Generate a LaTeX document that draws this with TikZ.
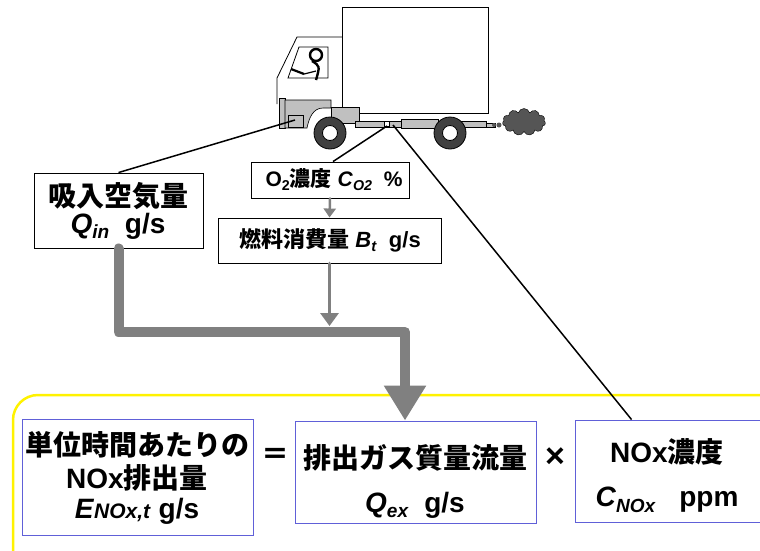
\documentclass[tikz,border=0pt]{standalone}
\usepackage{fontspec}
\setmainfont{Liberation Sans}
\newfontfamily\jp{Noto Sans CJK JP}
\usetikzlibrary{arrows.meta, calc, positioning, shapes.symbols}

\definecolor{panelblue}{RGB}{96,96,216}
\definecolor{flowgray}{RGB}{128,128,128}
\definecolor{partgray}{RGB}{192,192,192}
\definecolor{tyre}{RGB}{64,64,64}
\definecolor{smoke}{RGB}{85,85,85}

% italic symbol with a small lowered index
\newcommand{\vsub}[2]{\textit{#1}\raisebox{-0.35ex}{\scalebox{0.68}{\textit{#2}}}}

\begin{document}
\begin{tikzpicture}[x=1pt,y=-1pt]
    \tikzstyle{every node}=[inner sep=0pt, font=\bfseries];
    \tikzstyle{inbox}=[draw, line width=0.9pt];
    \tikzstyle{panel}=[draw=panelblue, line width=0.9pt];
    \tikzstyle{big}=[font=\fontsize{28}{30}\selectfont\bfseries];
    \tikzstyle{mid}=[font=\fontsize{21}{24}\selectfont\bfseries];
    \tikzstyle{part}=[fill=partgray, draw, line width=0.6pt];
    \tikzstyle{wire}=[draw, line width=1.5pt];
    \tikzstyle{flow}=[draw=flowgray, line cap=round, line join=round];
    \useasboundingbox (0,0) rectangle (760,550);
    \clip (0,0) rectangle (760,550);

    % frame round the formula
    \draw[yellow, line width=2.5pt, rounded corners=25] (13,395) rectangle (800,600);

    % truck body and cab
    \begin{scope}[line width=0.8pt]
    \draw (342,7) rectangle (488,113);
    \draw (277,104) -- (277,78) -- (297,37) -- (342,37);
    \draw (299,47) -- (328,47) -- (328,78) -- (288,78) -- cycle;
    \draw[line width=2.4pt] (316,55) circle (6);
    \draw[line width=2.4pt] (312,61) .. controls (320,66) .. (316,80);
    \draw[line width=2.2pt] (291,69) -- (304,74);
    \draw[line width=1.2pt] (304,74) -- (316,71);
    % engine, tank, chassis
    \draw[part] (279,98) rectangle (285,128);
    \draw[part] (285,100) -- (331,100) -- (331,108) -- (323,108) .. controls (313,108) and (309,118) .. (307,128) -- (285,128) -- cycle;
    \draw[part] (288,115) rectangle (303,127);
    \draw[part] (331,107) rectangle (359,123);
    \draw[part] (355,121) rectangle (486,127);
    \draw[part] (401,119) rectangle (438,128);
    \draw[fill=white] (384,121) rectangle (389,126);
    \draw[part] (486,123) rectangle (495,127);
    \fill[smoke] (494,125) circle (2) (499,125) circle (2.5);
    \foreach \wx in {330,450} {
        \draw[fill=tyre] (\wx,133) circle (16);
        \draw[fill=white] (\wx,133) circle (7.5);
    }
    \end{scope}
    \node[cloud, cloud puffs=11, aspect=1.6, draw, fill=smoke, minimum width=43, minimum height=27] (exhaust) at (524,122) {};

    % measurement boxes
    \node[inbox, minimum width=169, minimum height=75] (qin) at (118.5,210.5) {};
    \node[inbox, minimum width=158, minimum height=36] (otwo) at (330,180) {};
    \node[inbox, minimum width=223, minimum height=45] (fuel) at (329.5,240.5) {};
    \node[panel, minimum width=231, minimum height=116] (rate) at (137.5,477) {};
    \node[panel, minimum width=241, minimum height=102] (qex) at (415.5,472) {};
    \node[panel, minimum width=225, minimum height=102] (nox) at (687.5,471) {};

    \node[big] (qinjp) at (118,196) {\jp 吸入空気量};
    \node[big] (qinvar) at (118,226) {\vsub{Q}{in}\ \ g/s};
    \node[mid] (otwotx) at (334,180) {O\raisebox{-0.35ex}{\scalebox{0.68}{2}}{\jp 濃度} \vsub{C}{O2}\ \ \%};
    \node[mid, font=\fontsize{22}{24}\selectfont\bfseries] (fueltx) at (330,240) {{\jp 燃料消費量} \vsub{B}{t}\ \ g/s};

    \node[big] (ratejp) at (137,445) {\jp 単位時間あたりの};
    \node[big] (ratenox) at (137,478) {NOx{\jp 排出量}};
    \node[big] (ratevar) at (137,511) {\textit{E}\scalebox{0.75}{\textit{NOx,t}}\ g/s};
    \node[big] (eq) at (275,456) {\jp ＝};
    \node[big] (qexjp) at (415,458) {\jp 排出ガス質量流量};
    \node[big] (qexvar) at (415,505) {\vsub{Q}{ex}\ \ g/s};
    \node[big, font=\fontsize{34}{36}\selectfont\bfseries] (times) at (555,458) {×};
    \node[big] (noxjp) at (667,452) {NOx{\jp 濃度}};
    \node[big] (noxvar) at (667,500) {\vsub{C}{NOx}\ \ \ ppm};

    % sampling points on the truck
    \coordinate (intake) at (295,120);
    \coordinate (tap) at (387,126);
    \coordinate (probe) at (393,125);
    \draw[wire] (intake) -- (qin.north);
    \draw[wire] (tap) -- ($(otwo.north)+(3,0)$);
    \draw[wire] (probe) -- ($(nox.north west)+(57,0)$);

    % flows into the exhaust mass
    \coordinate (bend) at (405,332);
    \draw[flow, line width=10pt, -{Triangle[width=40pt,length=35pt]}] (qin.south) |- (bend) -- (bend |- qex.north);
    \draw[flow, line width=2.5pt, -{Triangle[width=12pt,length=9pt]}] (otwo.south) -- (fuel.north);
    \draw[flow, line width=3.5pt, -{Triangle[width=18pt,length=13pt]}] (fuel.south) -- ($(fuel.south |- bend)+(0,-6)$);
\end{tikzpicture}
\end{document}
